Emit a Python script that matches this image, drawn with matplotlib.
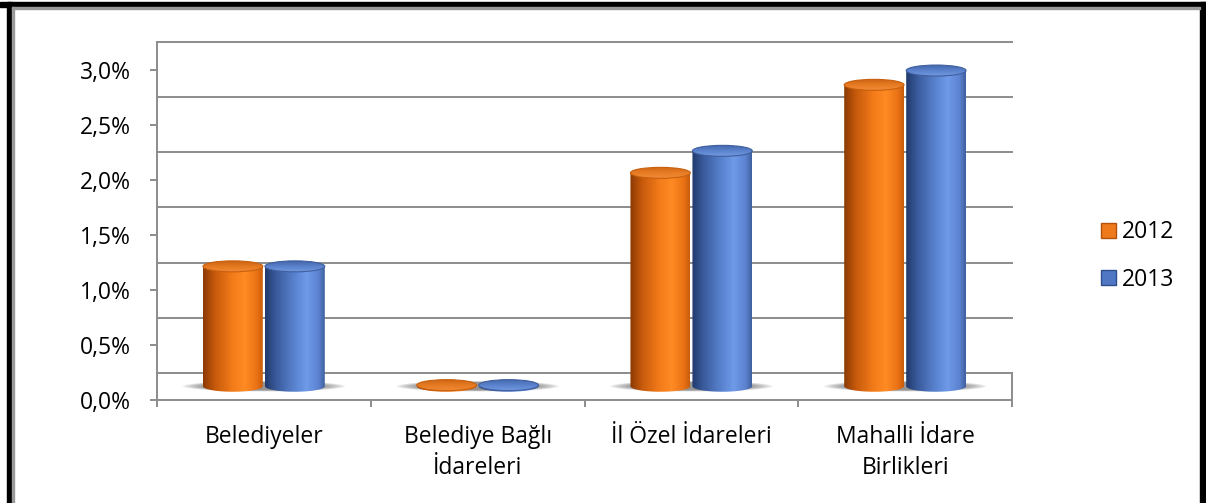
import numpy as np
import matplotlib.pyplot as plt
import matplotlib.transforms as mtransforms
from matplotlib.patches import Ellipse, PathPatch, Patch, Rectangle
from matplotlib.path import Path
from matplotlib.colors import LinearSegmentedColormap

plt.rcParams['font.family'] = ['Open Sans', 'DejaVu Sans']

categories = ["Belediyeler", "Belediye Bağlı\nİdareleri", "İl Özel İdareleri", "Mahalli İdare\nBirlikleri"]
years = ["2012", "2013"]
values_2012 = [1.09, 0.01, 1.94, 2.74]
values_2013 = [1.09, 0.01, 2.14, 2.87]
yticks = [0.0, 0.5, 1.0, 1.5, 2.0, 2.5, 3.0]
ytick_labels = ["0,0%", "0,5%", "1,0%", "1,5%", "2,0%", "2,5%", "3,0%"]

W, H = 1206, 503
fig = plt.figure(figsize=(W / 100, H / 100), dpi=100)
ax = fig.add_axes([157 / W, (H - 400) / H, (1012 - 157) / W, 357.5 / H])
ax.set_xlim(0, 4)
ax.set_ylim(0, 3.25)
ax.set_autoscale_on(False)

grid_col = "#8c8c8c"
fs = 16.5
depth = 0.25  # floor depth in value units (the back wall sits this much higher)
px_per_unit = 357.5 / 3.25
bar_tr = mtransforms.offset_copy(ax.transData, fig=fig, y=depth / 2 * px_per_unit, units="dots")
back_tr = mtransforms.offset_copy(ax.transData, fig=fig, y=depth * px_per_unit, units="dots")

# back wall grid and floor
for v in yticks:
    ax.plot([0, 4], [v, v], transform=back_tr, color=grid_col, lw=1.4, zorder=1, clip_on=False)
ax.plot([4, 4], [0, depth], color=grid_col, lw=1.4, zorder=1, clip_on=False)

for s in ["top", "right"]:
    ax.spines[s].set_visible(False)
for s in ["left", "bottom"]:
    ax.spines[s].set_color(grid_col)
    ax.spines[s].set_linewidth(1.4)

ax.set_yticks(yticks)
ax.set_yticklabels(ytick_labels)
ax.set_xticks(range(5))
ax.set_xticklabels([])
ax.set_xticks(np.arange(len(categories)) + 0.5, minor=True)
ax.set_xticklabels(categories, minor=True)
ax.tick_params(axis="y", length=5, width=1.4, color=grid_col, pad=14, labelsize=fs)
ax.tick_params(axis="x", which="major", length=5, width=1.4, color=grid_col)
ax.tick_params(axis="x", which="minor", length=0, pad=18, labelsize=fs)
for t in ax.get_xticklabels(minor=True):
    t.set_linespacing(1.38)

orange_body = LinearSegmentedColormap.from_list("ob", [
    (0.0, "#8a3a04"), (0.2, "#c65a0c"), (0.5, "#f47c1a"), (0.7, "#ff8b24"), (0.9, "#ea7214"), (1.0, "#c85c0c")])
blue_body = LinearSegmentedColormap.from_list("bb", [
    (0.0, "#213a6c"), (0.2, "#3b5c9e"), (0.5, "#5a84d0"), (0.7, "#6e9ae8"), (0.9, "#5b82cf"), (1.0, "#3f609e")])
orange_top = LinearSegmentedColormap.from_list("ot", ["#f28a36", "#e57a22", "#cc6412"])
blue_top = LinearSegmentedColormap.from_list("bt", ["#7299e0", "#5a82cc", "#4366aa"])
series = [(values_2012, orange_body, orange_top, "#c8600e"),
          (values_2013, blue_body, blue_top, "#3f5f9f")]

bw = 0.28
step = 0.29
eh = 11 / px_per_unit  # ellipse height of cylinder caps
grad = np.linspace(0, 1, 256).reshape(1, -1)

# soft shadows on the floor
for i in range(len(categories)):
    cx = i + 0.5
    for k in range(10):
        wdt = 0.76 - k * 0.025
        ax.add_patch(Ellipse((cx, 0), wdt, eh * (0.95 - k * 0.03), transform=bar_tr,
                             facecolor="#555555", edgecolor="none", alpha=0.09, zorder=2, clip_on=False))

for s, (vals, body_cm, top_cm, edge) in enumerate(series):
    for i, v in enumerate(vals):
        cx = i + 0.5 + (s - 0.5) * step
        x0, x1 = cx - bw / 2, cx + bw / 2
        t = np.linspace(np.pi, 2 * np.pi, 60)
        bottom = np.column_stack([cx + bw / 2 * np.cos(t), eh / 2 * np.sin(t)])
        verts = np.vstack([[x0, v], bottom, [x1, v], [x0, v]])
        body = PathPatch(Path(verts), transform=bar_tr, facecolor="none", edgecolor="none")
        im = ax.imshow(grad, cmap=body_cm, extent=[x0, x1, -eh, v + eh], aspect="auto",
                       transform=bar_tr, origin="lower", zorder=3, interpolation="bilinear")
        im.set_clip_path(body)
        im.set_clip_box(None)

        top = Ellipse((cx, v), bw, eh, transform=bar_tr, facecolor="none", edgecolor="none")
        ax.add_patch(Ellipse((cx, v), bw, eh, transform=bar_tr, facecolor="none",
                             edgecolor=edge, lw=0.8, zorder=5, clip_on=False))
        im2 = ax.imshow(np.linspace(0, 1, 64).reshape(-1, 1), cmap=top_cm,
                        extent=[x0, x1, v - eh / 2, v + eh / 2], aspect="auto",
                        transform=bar_tr, origin="lower", zorder=4, interpolation="bilinear")
        im2.set_clip_path(top)
        im2.set_clip_box(None)

ax.set_xlim(0, 4)
ax.set_ylim(0, 3.25)

handles = [Patch(facecolor="#ee7a1c", edgecolor="#b3520c", label=years[0]),
           Patch(facecolor="#4f77c4", edgecolor="#2f4f8c", label=years[1])]
fig.legend(handles=handles, loc="center left", bbox_to_anchor=(1101 / W, 1 - 256 / H),
           frameon=False, fontsize=fs, handlelength=0.65, handleheight=0.65,
           handletextpad=0.25, labelspacing=1.02, borderpad=0, borderaxespad=0)

# outer black frame (picture is cropped at the bottom)
fig.add_artist(Rectangle((7 / W, 0), 5 / W, 1 - 2 / H, transform=fig.transFigure, color="black"))
fig.add_artist(Rectangle((0, 1 - 7 / H), 1, 5 / H, transform=fig.transFigure, color="black"))
fig.add_artist(Rectangle((1200 / W, 0), 6 / W, 1 - 2 / H, transform=fig.transFigure, color="black"))
fig.add_artist(Rectangle((12 / W, 0), 2 / W, 1 - 7 / H, transform=fig.transFigure, color="#9a9a9a"))
fig.add_artist(Rectangle((12 / W, 1 - 9 / H), 1188 / W, 2 / H, transform=fig.transFigure, color="#9a9a9a"))

fig.savefig("out.png", dpi=100)
